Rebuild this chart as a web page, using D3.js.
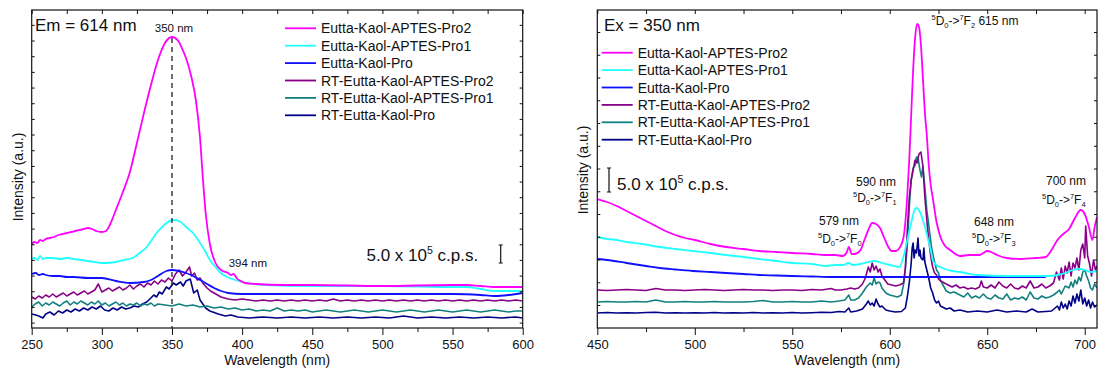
<!DOCTYPE html>
<html><head><meta charset="utf-8">
<script src="https://cdn.jsdelivr.net/npm/d3@7"></script>
<style>
html,body{margin:0;padding:0;background:#fff;}
text{font-family:"Liberation Sans",Arial,sans-serif;fill:#111;}
</style></head>
<body>
<svg id="c" width="1098" height="370"></svg>
<script>
// ---------- DATA ----------
const seriesNames = ["Eutta-Kaol-APTES-Pro2","Eutta-Kaol-APTES-Pro1","Eutta-Kaol-Pro","RT-Eutta-Kaol-APTES-Pro2","RT-Eutta-Kaol-APTES-Pro1","RT-Eutta-Kaol-Pro"];
const seriesColors = ["#ff00ff","#22ffff","#1010ff","#880088","#128080","#000088"];
const leftTicks = [250,300,350,400,450,500,550,600];
const rightTicks = [450,500,550,600,650,700];

// Excitation spectra (Em = 614 nm), intensity a.u.
const exPro2 = [[250,84],[252,86],[254,85],[256,88],[258,87],[260,89],[263,90],[266,91],[269,93],[272,94],[275,95],[278,96],[281,97],[284,98],[287,99],[290,100],[293,99],[296,97],[300,96],[303,97],[306,104],[310,118],[315,136],[320,156],[325,185],[330,215],[335,243],[340,268],[345,285],[350,291],[355,286],[357,280],[360,270],[364,250],[367,228],[370,190],[372,150],[374,115],[377,84],[381,65],[385,58],[390,55],[392,53],[394,54],[396,50],[399,47],[402,45],[410,44],[430,43],[450,43],[500,42],[550,43],[560,43],[570,42],[580,41],[600,41]];
const exPro1 = [[250,69],[252,70],[254,68],[256,72],[258,69],[260,70],[265,70],[270,69],[275,70],[280,69],[285,68],[290,67],[295,66],[300,65],[303,65],[310,66],[316,68],[322,70],[327,75],[332,81],[336,89],[339,95],[343,101],[346,105],[351,108],[355,107],[360,101],[365,95],[370,85],[374,76],[377,68],[381,61],[384,56],[388,52],[393,49],[400,46],[417,43],[450,42],[500,42],[550,41],[560,41],[570,39],[580,37],[600,37]];
const exPro = [[250,54],[253,55],[255,53],[258,54],[260,53],[265,52],[270,52],[275,51],[280,51],[290,50],[300,50],[310,47],[320,45],[330,46],[335,48],[340,52],[346,57],[350,58],[355,57],[360,55],[365,52],[370,48],[375,44],[380,40],[385,37],[390,35],[400,34],[450,34],[500,34],[550,34],[570,33],[580,32],[590,33],[600,35]];
const exRTPro2 = [[250,31],[252.5,29],[255,32],[257.5,30],[260,33],[262.5,31],[265,34],[267.5,31],[270,33],[272.5,35],[275,32],[277.5,34],[280,36],[282.5,33],[285,35],[287.5,37],[290,34],[292.5,36],[295,38],[297.5,44],[300,36],[302.5,38],[305,40],[307.5,37],[310,39],[312.5,41],[315,38],[317.5,40],[320,43],[322.5,39],[325,42],[327.5,44],[330,41],[332.5,45],[335,43],[337.5,47],[340,44],[342.5,48],[345,46],[347.5,50],[350,47],[352.5,54],[355,58],[357.5,52],[360,56],[362.5,61],[364,52],[366,55],[368,48],[370,50],[372.5,44],[375,40],[377.5,37],[380,35],[382.5,33],[385,31],[387.5,30],[390,29],[395,28],[400,29],[405,28],[410,27],[415,28],[420,27],[425,28],[430,27],[435,28],[440,27],[445,28],[450,27],[455,28],[460,27],[465,29],[470,27],[475,28],[480,27],[485,28],[490,27],[495,28],[500,27],[505,28],[510,27],[515,28],[520,27],[525,28],[530,27],[535,28],[540,27],[545,28],[550,27],[555,28],[560,27],[565,28],[570,27],[575,28],[580,27],[585,28],[590,27],[595,28],[600,27]];
const exRTPro1 = [[250,21],[252.5,24],[255,26],[257.5,22],[260,25],[262.5,23],[265,26],[267.5,24],[270,22],[272.5,25],[275,27],[277.5,23],[280,26],[282.5,24],[285,27],[287.5,25],[290,23],[292.5,26],[295,24],[297.5,27],[300,23],[302.5,25],[305,22],[307.5,24],[310,26],[312.5,23],[315,25],[317.5,22],[320,24],[322.5,23],[325,25],[327.5,22],[330,24],[332.5,23],[335,25],[337.5,22],[340,24],[345,23],[350,22],[355,24],[360,22],[365,23],[370,21],[375,22],[380,20],[385,21],[390,19],[395,20],[400,18],[405,19],[410,17],[415,18],[420,17],[425,20],[430,17],[435,18],[440,17],[445,18],[450,16],[455,17],[460,18],[465,17],[470,16],[475,17],[480,18],[485,17],[490,16],[495,17],[500,18],[505,17],[510,16],[515,17],[520,18],[525,17],[530,16],[535,17],[540,18],[545,17],[550,16],[555,17],[560,18],[565,17],[570,16],[575,17],[580,18],[585,17],[590,16],[595,17],[600,17]];
const exRTPro = [[250,14],[253,13],[255,12],[258,10],[260,14],[263,16],[266,13],[269,17],[272,15],[275,18],[278,16],[281,19],[284,17],[287,20],[290,18],[293,21],[296,19],[299,22],[302,18],[305,17],[308,20],[311,18],[314,21],[317,19],[320,20],[323,22],[326,21],[329,24],[332,26],[335,30],[337,33],[339,31],[341,36],[343,34],[346,41],[348,39],[351,45],[353,43],[356,46],[358,42],[360,47],[363,49],[365.5,35],[368,38],[370,28],[372,24],[374,20],[377,17],[379,16],[383,14],[388,12],[392,13],[397,11],[405,10],[415,11],[425,10],[435,11],[445,10],[455,11],[465,10],[475,11],[485,10],[495,11],[505,10],[515,12],[525,10],[535,11],[545,10],[555,11],[565,10],[575,11],[585,10],[595,11],[600,10]];

// Emission spectra (Ex = 350 nm), intensity a.u.
const emPro2 = [[450,129],[455,126],[460,122],[465,117],[470,112],[473,109],[476,106],[480,102],[485,97],[490,93],[495,90],[500,88],[508,84],[516,81],[525,79],[533,77],[542,76],[550,75],[560,74],[567,73],[572,73],[576,72],[578,76],[579,81],[580.5,74],[582,74],[585,78],[587,88],[589,98],[591,105],[593,104],[595,100],[597,91],[599,82],[601,77],[603,77],[605,80],[607,90],[608,106],[609,133],[610,168],[611,213],[612,258],[613,290],[614,304],[615,301],[616,283],[617,250],[618,216],[619,193],[620,163],[621,143],[622,131],[624,106],[626,91],[628,83],[631,78],[636,72],[641,73],[646,73],[648,75],[650,77],[652,76],[655,73],[660,70],[667,69],[675,70],[680,71],[683,78],[686,88],[689,94],[692,99],[695,110],[698,118],[700,114],[702,102],[704,88],[705,100],[706.3,111]];
const emPro1 = [[450,91],[455,89],[460,88],[465,86],[473,84],[482,81],[490,79],[499,77],[508,75],[516,73],[525,71],[533,69],[542,67],[550,65],[560,64],[567,62],[572,63],[576,63],[579,65],[581,63],[585,64],[589,66],[592,67],[596,65],[600,63],[605,61],[607,71],[609,88],[611,105],[612.5,117],[613.7,120],[615.5,116],[617,108],[618.5,98],[619.7,88],[621,78],[622,68],[624,63],[627,60],[632,57],[636,56],[645,53],[660,52],[675,52],[682,52],[686,53],[690,55],[694,58],[697,59],[700,58],[703,56],[706.3,57]];
const emPro = [[450,69],[455,68],[465,65],[475,62],[482,60],[490,58.5],[499,57],[508,56],[516,55],[525,54],[533,53],[542,52.5],[550,52],[560,51.5],[570,51],[580,51],[600,51],[620,51],[640,51],[660,51],[680,51]];
const emRTPro2 = [[450,38],[455,37.5],[460,38],[465,38.5],[470,38],[475,37.5],[480,39.5],[485,38],[490,38],[495,37.5],[500,38],[505,38.5],[510,38],[515,37.5],[520,38],[525,38.5],[530,38],[535,38],[540,37.5],[545,38],[550,38],[555,37.5],[560,38.5],[565,38],[570,39.5],[572,38],[575,38],[578,39],[580,40],[582,39],[584,40],[586,44],[587.5,50],[589,61],[590,56],[591,65],[592,58],[593,62],[594,56],[595,59],[596,52],[597.5,48],[599,44],[601,43],[603,42],[605,43],[607,45],[608,60],[609,98],[610,130],[611,148],[612,158],[613,168],[614,165],[615,174],[616,176],[617,162],[618,131],[619,108],[620,88],[621,72],[622,61],[623,55],[624,53],[625,49],[626,47],[628,45],[630,43],[632,41],[634,43],[636,40],[638,41],[640,39],[642,40],[644,39],[646,41],[647,47],[648,41],[650,40],[652,43],[654,40],[656,46],[658,42],[660,40],[662,44],[664,40],[666,39],[668,42],[670,40],[672,47],[674,40],[676,41],[678,44],[680,40],[682,42],[684,45],[685.5,56],[687,48],[688,60],[689,49],[690,62],[691,55],[692,66],[693,52],[694,65],[695,60],[696,70],[697,58],[698,78],[699,84],[700,70],[700.5,102],[701.5,72],[702.5,64],[703.5,52],[704.5,68],[705.5,58],[706.3,62]];
const emRTPro1 = [[450,26],[455,26.5],[460,26],[465,26],[470,26.5],[475,26],[480,28],[485,26],[490,26],[495,26.5],[500,26],[505,26],[510,26.5],[515,26],[520,26],[525,26],[530,26.5],[535,27.5],[540,26],[545,26],[550,26.5],[555,26],[560,26],[565,27],[570,26],[574,27],[577,28],[579,33],[580,28],[582,28],[584,30],[586,35],[588,41],[590,45],[591,43],[592,50],[593,44],[594,46],[595,45],[596,40],[598,35],[600,33],[602,32],[604,31],[606,33],[607.5,48],[609,82],[610,120],[611,148],[612,160],[613,163],[613.7,171],[614.5,170],[615.5,158],[616.3,151],[617,162],[618,141],[619,118],[619.7,108],[620.5,95],[621.4,81],[622.5,70],[624,58],[625,55],[626,48],[627,44],[629,37],[631,35],[633,36],[636,33],[638,31],[640,35],[642,30],[644,32],[646,30],[648,34],[650,30],[652,29],[654,33],[656,30],[658,29],[660,34],[662,28],[664,30],[666,29],[668,31],[670,28],[672,36],[674,30],[676,29],[678,32],[680,30],[682,31],[684,33],[686,36],[687,38],[688,34],[690,42],[692,40],[693,46],[694,41],[695,48],[696,44],[697,51],[698,47],[699,56],[700,58],[701,52],[702,47],[703,40],[704,38],[705,44],[706.3,40]];
const emRTPro = [[450,15],[455,15.5],[460,15],[465,15.3],[470,15],[475,15.5],[480,15.8],[485,15],[490,15.3],[495,15],[500,15.3],[505,15],[510,15.5],[515,15],[520,15.3],[525,15],[530,15.5],[535,15],[540,15.3],[545,15],[550,15.5],[555,15],[560,15.3],[565,15.8],[570,15.5],[574,16.5],[577,16],[579,20],[580,16],[583,17],[586,19],[588,24],[589,27],[590,23],[591,25],[592,22],[593,29],[594,24],[595,21],[596,22],[598,18],[600,17],[603,16],[606,16.5],[608,20],[609,31],[610,45],[611,65],[611.5,80],[612,85],[612.5,70],[613,78],[613.7,75],[614.5,90],[615,72],[615.5,78],[616,70],[617,68],[617.5,80],[618,66],[619,58],[620,50],[621,40],[622,35],[623,28],[624,25],[625,27],[626,22],[627,21],[629,19],[631,20],[633,17],[636,18],[640,16],[645,17],[650,16],[655,18],[660,16],[665,17],[670,16],[673,19],[676,16],[680,16.5],[683,17],[686,22],[687,18],[688,26],[689,20],[690,24],[691,19],[692,27],[693,22],[694,32],[695,25],[696,34],[697,27],[698,38],[699,24],[700,30],[701,22],[702,28],[703,20],[704,26],[705,21],[706.3,23]];

// ---------- DRAW ----------
const svg = d3.select("#c");
const yTop = 10, yBot = 328;
const y = d3.scaleLinear().domain([0,318]).range([yBot, yTop]);

function rich(g, x, yy, size, parts, anchor){
  const t = g.append("text").attr("x",x).attr("y",yy).attr("font-size",size).attr("text-anchor",anchor||"start");
  let shift = 0;
  parts.forEach(p=>{
    let target = 0, fs = size;
    if(p[1]==="sup"){ target = -0.42*size; fs = size*0.62; }
    if(p[1]==="sub"){ target = 0.25*size; fs = size*0.62; }
    t.append("tspan").attr("dy", target - shift).attr("font-size", fs).text(p[0]);
    shift = target;
  });
  return t;
}

function panel(cfg){
  const x = d3.scaleLinear().domain(cfg.domain).range(cfg.range);
  const g = svg.append("g");
  const cid = "clip"+cfg.id;
  svg.append("clipPath").attr("id",cid).append("rect")
    .attr("x",cfg.range[0]).attr("y",yTop).attr("width",cfg.range[1]-cfg.range[0]).attr("height",yBot-yTop);

  const lines = g.append("g").attr("clip-path",`url(#${cid})`);
  for(let i=cfg.series.length-1;i>=0;i--){
    const smooth = i<3;
    const line = d3.line().x(d=>x(d[0])).y(d=>y(d[1])).curve(smooth?d3.curveMonotoneX:d3.curveLinear);
    lines.append("path").datum(cfg.series[i]).attr("d",line)
      .attr("fill","none").attr("stroke",seriesColors[i]).attr("stroke-width",smooth?1.8:1.6)
      .attr("stroke-linejoin","round");
  }

  const minor = d3.range(cfg.domain[0], cfg.domain[1]+0.01, 25).filter(v=>!cfg.ticks.includes(v));
  g.append("g").attr("transform",`translate(0,${yBot})`)
    .call(d3.axisBottom(x).tickValues(cfg.ticks).tickSize(7).tickPadding(5).tickFormat(d3.format("d")))
    .call(a=>{a.select(".domain").remove(); a.selectAll("text").attr("font-size",13).attr("font-family","Liberation Sans, Arial").attr("fill","#111");});
  g.append("g").attr("transform",`translate(0,${yBot})`)
    .call(d3.axisBottom(x).tickValues(minor).tickSize(4).tickFormat(""))
    .call(a=>a.select(".domain").remove());
  g.append("g").attr("transform",`translate(0,${yTop})`)
    .call(d3.axisBottom(x).tickValues(d3.range(cfg.domain[0], cfg.domain[1]+0.01, 25)).tickSize(4).tickFormat(""))
    .call(a=>a.select(".domain").remove());
  const yt = d3.range(cfg.ytStart, 318, cfg.ytStep);
  g.append("g").attr("transform",`translate(${cfg.range[0]},0)`)
    .call(d3.axisRight(y).tickValues(yt).tickSize(3).tickFormat(""))
    .call(a=>a.select(".domain").remove());
  g.append("g").attr("transform",`translate(${cfg.range[1]},0)`)
    .call(d3.axisLeft(y).tickValues(yt).tickSize(3).tickFormat(""))
    .call(a=>a.select(".domain").remove());
  g.selectAll(".tick line").attr("stroke","#111");
  g.append("rect").attr("x",cfg.range[0]).attr("y",yTop).attr("width",cfg.range[1]-cfg.range[0]).attr("height",yBot-yTop)
    .attr("fill","none").attr("stroke","#111").attr("stroke-width",1.2);

  g.append("text").attr("x",(cfg.range[0]+cfg.range[1])/2).attr("y",365).attr("text-anchor","middle").attr("font-size",14).text("Wavelength (nm)");
  g.append("text").attr("transform",`translate(${cfg.ylabX},${cfg.ylabY}) rotate(-90)`).attr("text-anchor","middle").attr("font-size",14).text("Intensity (a.u.)");

  seriesNames.forEach((n,i)=>{
    const yy = cfg.legY + i*17.4;
    g.append("line").attr("x1",cfg.legX).attr("x2",cfg.legX+31).attr("y1",yy).attr("y2",yy)
      .attr("stroke",seriesColors[i]).attr("stroke-width",1.8);
    g.append("text").attr("x",cfg.legX+36).attr("y",yy+5).attr("font-size",14).text(n);
  });
  return {g,x};
}

// Left panel
const L = panel({id:"L", domain:[250,600], range:[31.7,522.7], ticks:leftTicks,
  series:[exPro2,exPro1,exPro,exRTPro2,exRTPro1,exRTPro], ytStart:5.4, ytStep:15.67,
  legX:285, legY:28.3, ylabX:23, ylabY:177});
L.g.append("text").attr("x",35).attr("y",31).attr("font-size",17).text("Em = 614 nm");
L.g.append("line").attr("x1",L.x(350)).attr("x2",L.x(350)).attr("y1",y(290)).attr("y2",yBot)
  .attr("stroke","#222").attr("stroke-width",1.3).attr("stroke-dasharray","5,4");
L.g.append("text").attr("x",L.x(350)+2).attr("y",32).attr("text-anchor","middle").attr("font-size",11.5).text("350 nm");
L.g.append("text").attr("x",L.x(394)-5).attr("y",267).attr("font-size",11.5).text("394 nm");
rich(L.g, 366.5, 261, 17, [["5.0 x 10"],["5","sup"],[" c.p.s."]]);
function ibar(g, xx, y1, y2){
  g.append("path").attr("d",`M${xx-2},${y1}H${xx+2}M${xx},${y1}V${y2}M${xx-2},${y2}H${xx+2}`)
    .attr("stroke","#111").attr("stroke-width",1.2).attr("fill","none");
}
ibar(L.g, 500.7, 245, 263);

// Right panel
const R = panel({id:"R", domain:[450,706.3], range:[597.3,1097], ticks:rightTicks,
  series:[emPro2,emPro1,emPro,emRTPro2,emRTPro1,emRTPro], ytStart:23, ytStep:22.75,
  legX:601.7, legY:52.7, ylabX:588, ylabY:170});
R.g.append("text").attr("x",604).attr("y",31).attr("font-size",17).text("Ex = 350 nm");
ibar(R.g, 609, 168, 192);
rich(R.g, 617, 190, 17, [["5.0 x 10"],["5","sup"],[" c.p.s."]]);
rich(R.g, 931.5, 25, 12, [["5","sup"],["D"],["0","sub"],["->"],["7","sup"],["F"],["2","sub"],[" 615 nm"]]);
R.g.append("text").attr("x",839).attr("y",225).attr("text-anchor","middle").attr("font-size",12).text("579 nm");
rich(R.g, 818, 243, 12, [["5","sup"],["D"],["0","sub"],["->"],["7","sup"],["F"],["0","sub"]]);
R.g.append("text").attr("x",876).attr("y",186).attr("text-anchor","middle").attr("font-size",12).text("590 nm");
rich(R.g, 853, 202, 12, [["5","sup"],["D"],["0","sub"],["->"],["7","sup"],["F"],["1","sub"]]);
R.g.append("text").attr("x",994).attr("y",226).attr("text-anchor","middle").attr("font-size",12).text("648 nm");
rich(R.g, 972, 243, 12, [["5","sup"],["D"],["0","sub"],["->"],["7","sup"],["F"],["3","sub"]]);
R.g.append("text").attr("x",1066).attr("y",185).attr("text-anchor","middle").attr("font-size",12).text("700 nm");
rich(R.g, 1042, 204, 12, [["5","sup"],["D"],["0","sub"],["->"],["7","sup"],["F"],["4","sub"]]);
</script>
</body></html>
